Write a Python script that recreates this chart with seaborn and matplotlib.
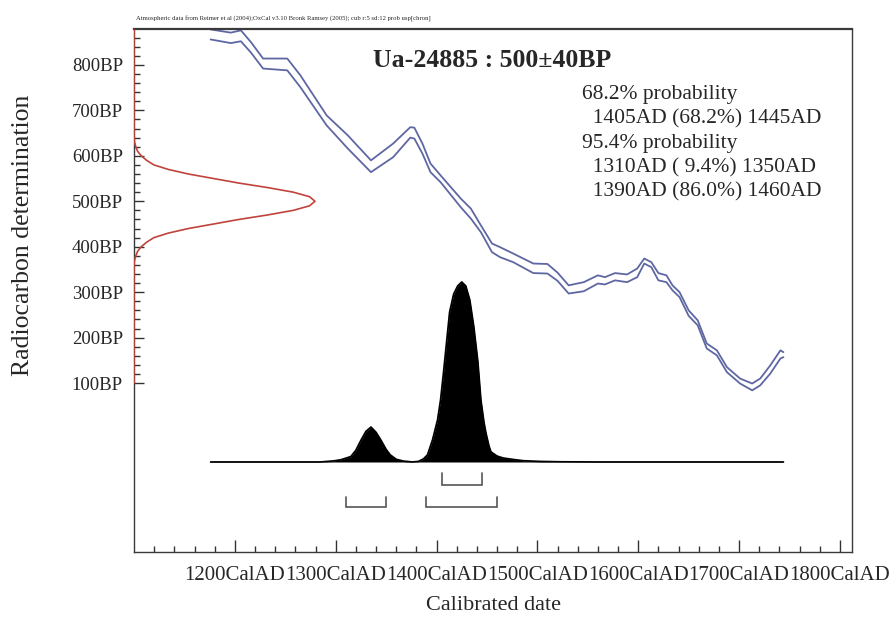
import numpy as np
import matplotlib
matplotlib.use("Agg")
import matplotlib.pyplot as plt
import matplotlib.transforms as mtransforms
from matplotlib.ticker import FixedLocator
import seaborn as sns

# ---------------- data ----------------
# calibration curve (IntCal04, 1-sigma envelope)
cal_years = [1176, 1196, 1206, 1216, 1228, 1252, 1265, 1291, 1312, 1335,
             1357, 1374, 1378, 1386, 1394, 1404, 1424, 1434, 1444, 1455,
             1463, 1476, 1496, 1510, 1520, 1531, 1546, 1560, 1567, 1577,
             1589, 1599, 1606, 1613, 1620, 1628, 1634, 1641, 1650, 1659,
             1668, 1678, 1688, 1701, 1713, 1721, 1731, 1741, 1744]
cal_upper = [878, 871, 876, 850, 814, 814, 777, 689, 645, 590,
             627, 663, 662, 627, 583, 557, 506, 484, 447, 407,
             399, 385, 363, 362, 343, 315, 322, 337, 333, 342,
             339, 352, 374, 366, 342, 337, 315, 300, 260, 238,
             187, 172, 135, 110, 99, 110, 139, 172, 168]
cal_lower = [856, 848, 852, 827, 792, 788, 751, 667, 616, 564,
             597, 640, 638, 605, 564, 542, 487, 462, 432, 388,
             377, 366, 342, 341, 325, 297, 302, 319, 317, 326,
             322, 333, 363, 355, 326, 322, 304, 289, 248, 227,
             176, 161, 124, 99, 84, 95, 121, 154, 157]

# calibrated (posterior) probability, relative
post_years = [1176, 1285, 1298, 1305, 1315, 1320, 1325, 1330, 1335, 1340,
              1345, 1350, 1354, 1360, 1367, 1376,
              1382, 1387, 1391, 1396, 1401, 1404, 1407, 1410, 1413, 1417,
              1421, 1425, 1429, 1433, 1437, 1441, 1444, 1447, 1449, 1452,
              1454, 1460, 1466, 1476, 1486, 1503, 1523, 1560, 1744]
post_prob = [0, 0, 0.006, 0.012, 0.03, 0.065, 0.12, 0.17, 0.194, 0.165,
             0.12, 0.07, 0.04, 0.015, 0.005, 0,
             0.003, 0.017, 0.039, 0.122, 0.233, 0.344, 0.5, 0.667, 0.833, 0.933,
             0.978, 1.0, 0.978, 0.9, 0.75, 0.556, 0.344, 0.222, 0.161, 0.089,
             0.056, 0.033, 0.022, 0.014, 0.007, 0.003, 0.001, 0, 0]

# radiocarbon determination 500 +/- 40 BP, relative
c14_bp = [100, 360, 370, 380, 390, 400, 410, 420, 430, 440, 450, 460, 470, 480,
          490, 500, 510, 520, 530, 540, 550, 560, 570, 580, 590, 600, 610, 620,
          630, 640, 880]
c14_dens = [0, 0, 0.003, 0.01, 0.02, 0.04, 0.07, 0.11, 0.19, 0.30, 0.44, 0.58,
            0.74, 0.88, 0.97, 1.0, 0.97, 0.88, 0.74, 0.58, 0.44, 0.30, 0.19,
            0.11, 0.07, 0.04, 0.02, 0.01, 0.003, 0, 0]

# highest probability ranges
range_68 = [(1405, 1445)]
range_95 = [(1310, 1350), (1390, 1460)]

x_major = [1200, 1300, 1400, 1500, 1600, 1700, 1800]
x_labels = [f"{v}CalAD" for v in x_major]
y_major = [100, 200, 300, 400, 500, 600, 700, 800]
y_labels = [f"{v}BP" for v in y_major]

title_text = "Ua-24885 : 500\u00b140BP"
info_lines = ["68.2% probability",
              "  1405AD (68.2%) 1445AD",
              "95.4% probability",
              "  1310AD ( 9.4%) 1350AD",
              "  1390AD (86.0%) 1460AD"]
header = ("Atmospheric data from Reimer et al (2004);OxCal v3.10 Bronk Ramsey (2005); "
          "cub r:5 sd:12 prob usp[chron]")

# ---------------- style ----------------
sns.set_theme(style="white")
plt.rcParams["font.family"] = ["Liberation Serif", "DejaVu Serif"]

W, H = 894, 624
fig = plt.figure(figsize=(W / 100, H / 100), dpi=100)
L, R, T, B = 134, 852, 29, 551.7
ax = fig.add_axes([L / W, (H - B) / H, (R - L) / W, (B - T) / H])

blue = "#5f67a3"
red = "#c0443c"

# calibration curve
sns.lineplot(x=cal_years, y=cal_upper, ax=ax, color=blue, lw=1.3)
sns.lineplot(x=cal_years, y=cal_lower, ax=ax, color=blue, lw=1.3)

ax.set_xlim(1100, 1812)
ax.set_ylim(-271, 879)

# posterior on twin y axis
ax2 = ax.twinx()
ax2.fill_between(post_years, 0, post_prob, color="black", lw=0)
sns.lineplot(x=post_years, y=post_prob, ax=ax2, color="black", lw=1.3)
base_frac = (B - 462) / (B - T)
span = (B - T) / 180.0
ax2.set_ylim(-base_frac * span, (1 - base_frac) * span)
ax2.yaxis.set_visible(False)

# radiocarbon date distribution on twin x axis
ax3 = ax.twiny()
sns.lineplot(x=c14_dens, y=c14_bp, ax=ax3, color=red, lw=1.2, orient="y")
ax3.set_xlim(0, (R - L) / 181.0)
ax3.xaxis.set_visible(False)
ax.set_ylim(-271, 879)

for a in (ax2, ax3):
    for s in a.spines.values():
        s.set_visible(False)
    a.set_xlabel("")
    a.set_ylabel("")

# brackets for ranges
tr = mtransforms.blended_transform_factory(ax.transData, ax.transAxes)
def fr(y):
    return (B - y) / (B - T)
for a, b in range_68:
    ax.plot([a, a, b, b], [fr(473), fr(485), fr(485), fr(473)], transform=tr,
            color="#555555", lw=1.2, solid_joinstyle="miter")
for a, b in range_95:
    ax.plot([a, a, b, b], [fr(497), fr(507), fr(507), fr(497)], transform=tr,
            color="#555555", lw=1.2, solid_joinstyle="miter")

# axes, ticks
for name, s in ax.spines.items():
    s.set_visible(True)
    s.set_color("#3a3a3a")
    s.set_linewidth(1.0)
ax.spines["top"].set_linewidth(1.6)

ax.set_xticks(x_major)
ax.set_xticklabels(x_labels, fontsize=15)
ax.xaxis.set_minor_locator(FixedLocator([v for v in range(1120, 1801, 20) if v % 100]))
ax.set_yticks(y_major)
ax.set_yticklabels(y_labels, fontsize=13.5)
ax.yaxis.set_minor_locator(FixedLocator([v for v in range(100, 870, 20) if v % 100]))
ax.tick_params(axis="both", which="both", direction="in", color="#333333", width=1.0,
               bottom=True, left=True, top=False, right=False)
ax.tick_params(axis="x", which="major", length=8.5, pad=10)
ax.tick_params(axis="x", which="minor", length=4)
ax.tick_params(axis="y", which="major", length=7.5, pad=8)
ax.tick_params(axis="y", which="minor", length=4)

ax.set_xlabel("Calibrated date", fontsize=16)
ax.xaxis.set_label_coords((493 - L) / (R - L), (B - 606) / (B - T))
ax.xaxis.label.set_va("center")
ax.set_ylabel("Radiocarbon determination", fontsize=18.5)
ax.yaxis.set_label_coords((23 - L) / (R - L), (B - 235) / (B - T))
ax.yaxis.label.set_va("center")

# texts
fig.text(136 / W, 1 - 21 / H, header, fontsize=4.8, va="baseline", ha="left")
fig.text(373 / W, 1 - 66.7 / H, title_text, fontsize=18.5, fontweight="bold",
         va="baseline", ha="left")
for i, line in enumerate(info_lines):
    fig.text(582 / W, 1 - (99.5 + 24.3 * i) / H, line, fontsize=15.5,
             va="baseline", ha="left")

fig.savefig("out.png", dpi=100, facecolor="white")
